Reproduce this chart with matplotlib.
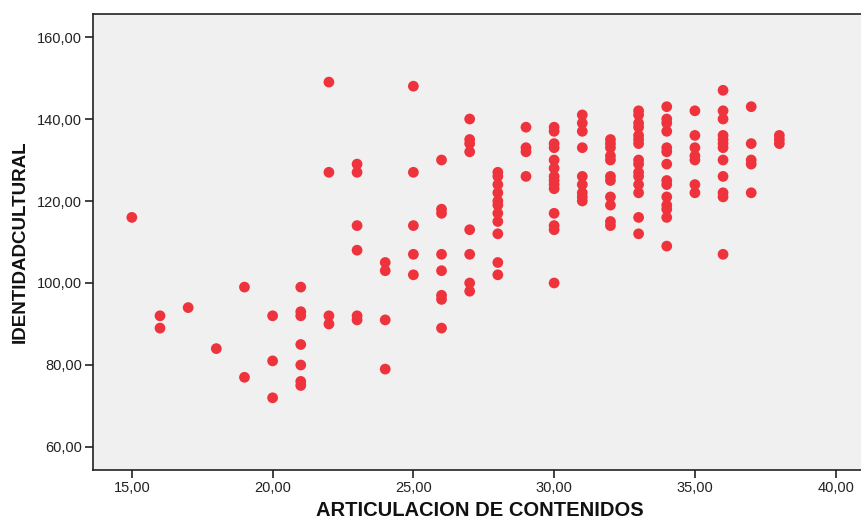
import matplotlib
matplotlib.use("Agg")
import matplotlib.pyplot as plt

# ARTICULACION DE CONTENIDOS (x) and IDENTIDADCULTURAL (y), grouped by x value
x_values = [15, 16, 17, 18, 19, 20, 21, 22, 23, 24, 25, 26, 27, 28, 29, 30,
            31, 32, 33, 34, 35, 36, 37, 38]
y_groups = [
    [116],
    [92, 89],
    [94],
    [84],
    [99, 77],
    [92, 81, 72],
    [99, 93, 92, 85, 80, 76, 75],
    [149, 127, 92, 90],
    [129, 127, 114, 108, 92, 91],
    [105, 103, 91, 79],
    [148, 127, 114, 107, 102],
    [130, 118, 117, 107, 103, 97, 96, 89],
    [140, 135, 134, 132, 113, 107, 100, 98],
    [127, 126, 124, 122, 120, 119, 117, 115, 112, 105, 102],
    [138, 133, 132, 126],
    [138, 137, 134, 133, 130, 128, 126, 125, 124, 123, 117, 114, 113, 100],
    [141, 139, 137, 133, 126, 124, 122, 121, 120],
    [135, 134, 133, 131, 130, 126, 125, 121, 119, 115, 114],
    [142, 141, 139, 138, 136, 135, 134, 130, 129, 127, 126, 124, 122, 116, 112],
    [143, 140, 139, 137, 133, 132, 129, 125, 124, 121, 119, 118, 116, 109],
    [142, 136, 133, 131, 130, 124, 122],
    [147, 142, 140, 136, 135, 134, 133, 130, 126, 122, 121, 107],
    [143, 134, 130, 129, 122],
    [136, 135, 134],
]
x_ticks = [15, 20, 25, 30, 35, 40]
y_ticks = [60, 80, 100, 120, 140, 160]
x_label = "ARTICULACION DE CONTENIDOS"
y_label = "IDENTIDADCULTURAL"

xs, ys = [], []
for xv, grp in zip(x_values, y_groups):
    for yv in grp:
        xs.append(xv)
        ys.append(yv)

plt.rcParams['font.family'] = ['Liberation Sans', 'DejaVu Sans']

fig = plt.figure(figsize=(8.61, 5.20), dpi=100)
ax = fig.add_axes([93/861, 50/520, 768/861, 456/520])
ax.set_facecolor('#f0f0f0')
ax.scatter(xs, ys, s=60, color='#ef333d', edgecolors='none', zorder=3)

ax.set_xlim(13.62, 40.9)
ax.set_ylim(54.39, 165.61)
ax.set_xticks(x_ticks)
ax.set_yticks(y_ticks)
ax.set_xticklabels([f"{t:.2f}".replace('.', ',') for t in x_ticks])
ax.set_yticklabels([f"{t:.2f}".replace('.', ',') for t in y_ticks])
ax.tick_params(direction='out', length=6, width=1.2, color='#222222',
               labelsize=10.5, labelcolor='#222222', pad=2)

for side in ['left', 'top', 'bottom']:
    ax.spines[side].set_color('#222222')
    ax.spines[side].set_linewidth(1.2)
ax.spines['right'].set_visible(False)

ax.set_xlabel(x_label, fontsize=14.5, fontweight='bold', color='#111111')
ax.set_ylabel(y_label, fontsize=13.5, fontweight='bold', color='#111111')
ax.xaxis.set_label_coords(0.504, -0.088)
ax.yaxis.set_label_coords(-0.0944, 0.5)
ax.xaxis.label.set_va('center')
ax.yaxis.label.set_va('center')

fig.savefig("out.png", dpi=100, facecolor='white')
